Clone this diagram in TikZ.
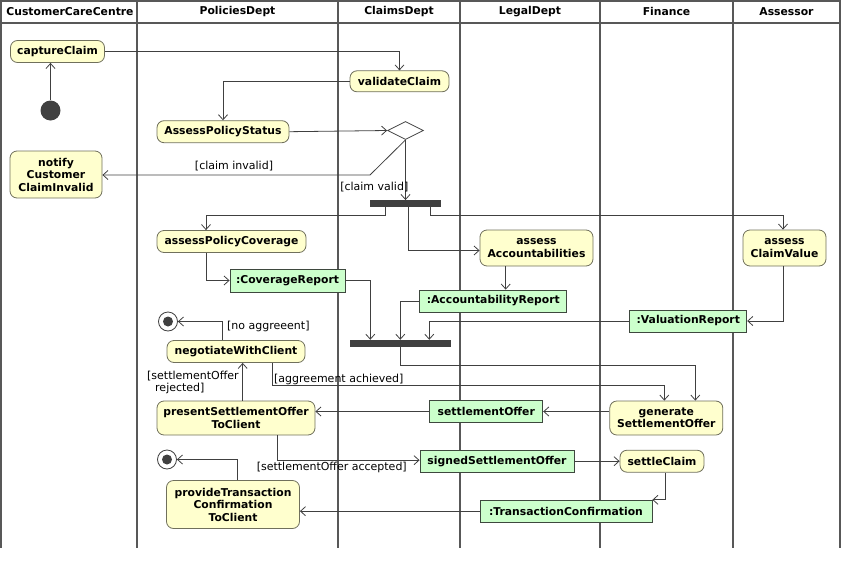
\documentclass[tikz,border=0pt]{standalone}
\usepackage{fontspec}
\setmainfont{DejaVu Sans}
\usetikzlibrary{arrows.meta,shapes.geometric}

\definecolor{lane}{RGB}{88,88,88}
\definecolor{wire}{RGB}{64,64,64}
\definecolor{actfill}{RGB}{255,255,206}
\definecolor{actline}{RGB}{112,112,92}
\definecolor{objfill}{RGB}{204,255,204}
\definecolor{objline}{RGB}{62,72,62}
\definecolor{barfill}{RGB}{64,64,64}

\newcommand{\boldtext}{\fontsize{10.8}{12.5}\selectfont\bfseries}
\newcommand{\guardtext}{\fontsize{11}{12}\selectfont}

\begin{document}
\begin{tikzpicture}[x=1pt,y=-1pt,
  action/.style={draw=actline, fill=actfill, rounded corners=7pt, line width=0.8pt,
                 inner sep=0pt, align=center, font=\boldtext},
  object/.style={draw=objline, fill=objfill, line width=0.8pt,
                 inner sep=0pt, align=center, font=\boldtext},
  forkbar/.style={fill=barfill, draw=none, inner sep=0pt},
  startdot/.style={circle, fill=barfill, draw=none, inner sep=0pt, minimum size=20pt},
  enddot/.style={circle, draw=wire, fill=white, line width=0.8pt, inner sep=0pt, minimum size=19pt},
  choice/.style={diamond, draw=wire, fill=white, line width=0.8pt, inner sep=0pt,
                 minimum width=36pt, minimum height=18pt},
  flow/.style={draw=wire, line width=0.8pt, -{Straight Barb[length=5pt,width=9pt]}},
  guard/.style={font=\guardtext, inner sep=0pt},
  lanehead/.style={font=\boldtext, inner sep=0pt},
  swim/.style={draw=lane, line width=2pt}
]
\useasboundingbox (0,0) rectangle (860,568);

% swimlanes
\draw[swim] (1,1) rectangle (840,22.5);
\foreach \lx in {1,137,338,460,600,733,840}
  \draw[swim] (\lx,1) -- (\lx,548);

\node[lanehead] (h1) at (70,11.5) {CustomerCareCentre};
\node[lanehead] (h2) at (237.5,11.5) {PoliciesDept};
\node[lanehead] (h3) at (399,11.5) {ClaimsDept};
\node[lanehead] (h4) at (530,11.5) {LegalDept};
\node[lanehead] (h5) at (666.5,11.5) {Finance};
\node[lanehead] (h6) at (786.5,11.5) {Assessor};

% activity nodes
\node[startdot] (init) at (50.5,110.5) {};
\node[action, minimum width=94pt, minimum height=22pt] (cap) at (57.5,51.5) {captureClaim};
\node[action, minimum width=99pt, minimum height=21pt] (val) at (399.5,81.3) {validateClaim};
\node[action, minimum width=132pt, minimum height=22pt] (aps) at (223,131.7) {AssessPolicyStatus};
\node[choice] (dec) at (405.5,130.5) {};
\node[action, minimum width=92pt, minimum height=47pt] (notify) at (56,174.5) {notify\\Customer\\ClaimInvalid};
\node[forkbar, minimum width=71pt, minimum height=6.5pt] (fork1) at (405.5,203.5) {};
\node[action, minimum width=149pt, minimum height=22pt] (apc) at (231.5,241.5) {assessPolicyCoverage};
\node[object, minimum width=115pt, minimum height=23pt] (covrep) at (287.5,280.5) {:CoverageReport};
\node[action, minimum width=113pt, minimum height=36pt] (aacc) at (536.5,248) {assess\\Accountabilities};
\node[object, minimum width=147pt, minimum height=22pt] (acrep) at (493.3,301) {:AccountabilityReport};
\node[action, minimum width=83pt, minimum height=36pt] (acv) at (784.5,248) {assess\\ClaimValue};
\node[object, minimum width=117pt, minimum height=22pt] (valrep) at (688.3,321) {:ValuationReport};
\node[forkbar, minimum width=101pt, minimum height=6.7pt] (fork2) at (400.3,343.3) {};
\node[action, minimum width=138pt, minimum height=22pt] (neg) at (236,351.5) {negotiateWithClient};
\node[enddot] (final1) at (168,321.5) {};
\fill[barfill] (final1.center) circle (5pt);
\node[action, minimum width=113pt, minimum height=34pt] (gso) at (666.3,418) {generate\\SettlementOffer};
\node[object, minimum width=113pt, minimum height=22pt] (so) at (486.3,411.5) {settlementOffer};
\node[action, minimum width=158pt, minimum height=34pt] (pso) at (236,418) {presentSettlementOffer\\ToClient};
\node[enddot] (final2) at (167,459.5) {};
\fill[barfill] (final2.center) circle (5pt);
\node[object, minimum width=154pt, minimum height=22pt] (sso) at (497,461.2) {signedSettlementOffer};
\node[action, minimum width=84pt, minimum height=22pt] (sc) at (662,461.2) {settleClaim};
\node[object, minimum width=172pt, minimum height=22pt] (tc) at (566,511.2) {:TransactionConfirmation};
\node[action, minimum width=133pt, minimum height=48pt] (ptc) at (233,504.5) {provideTransaction\\Confirmation\\ToClient};

% control and object flows
\draw[flow] (init.north) -- (init.north |- cap.south);
\draw[flow] (cap.east) -| (val.north);
\draw[flow] (val.west) -| (aps.north);
\draw[flow] (aps.east) -- (dec.west);
\coordinate (kink) at (370,175);
\draw[flow] (dec.south) -- (kink) -- (kink -| notify.east);
\draw[flow] (dec.south) -- (dec.south |- fork1.north);
\draw[flow] ([xshift=-20pt]fork1.south) -- ++(0,8.5) -| ([xshift=-25.5pt]apc.north);
\draw[flow] ([xshift=3pt]fork1.south) |- ([yshift=-2.5pt]aacc.west);
\draw[flow] ([xshift=25pt]fork1.south) -- ++(0,8.5) -| ([xshift=-1.5pt]acv.north);
\draw[flow] ([xshift=-25.5pt]apc.south) |- (covrep.west);
\draw[flow] (covrep.east) -| ([xshift=-30pt]fork2.north);
\draw[flow] ([xshift=-30.8pt]aacc.south) -- ([xshift=-30.8pt]aacc.south |- acrep.north);
\draw[flow] (acrep.west) -| (fork2.north);
\draw[flow] ([xshift=-1.5pt]acv.south) |- (valrep.east);
\draw[flow] (valrep.west) -| ([xshift=29pt]fork2.north);
\draw[flow] (fork2.south) -- ++(0,18.3) -| ([xshift=29pt]gso.north);
\draw[flow] ([xshift=-13.7pt]neg.north) |- (final1.east);
\draw[flow] ([xshift=36.7pt]neg.south) -- ++(0,22.7) -| ([xshift=-2pt]gso.north);
\draw[flow] (gso.west |- so.east) -- (so.east);
\draw[flow] (so.west) -- (so.west -| pso.east);
\draw[flow] ([xshift=6.7pt]pso.north) -- ([xshift=6.7pt]pso.north |- neg.south);
\draw[flow] ([xshift=41.3pt]pso.south) |- ([yshift=1pt]sso.west);
\draw[flow] (sso.east) -- (sc.west);
\draw[flow] ([xshift=3.7pt]sc.south) |- (tc.north east);
\draw[flow] (tc.west) -- (tc.west -| ptc.east);
\draw[flow] ([xshift=4.3pt]ptc.north) |- (final2.east);

% guard labels
\node[guard] (g1) at (234,166) {[claim invalid]};
\node[guard, anchor=east] (g2) at (408.5,187) {[claim valid]};
\node[guard, anchor=west] (g3) at (227,326.5) {[no aggreeent]};
\node[guard, anchor=south west] (g4) at (274,384.5) {[aggreement achieved]};
\node[guard, anchor=north west, align=left] (g5) at (147,371) {[settlementOffer\\\hspace*{8pt}rejected]};
\node[guard, anchor=north east] (g6) at (407,461.5) {[settlementOffer accepted]};
\end{tikzpicture}
\end{document}
